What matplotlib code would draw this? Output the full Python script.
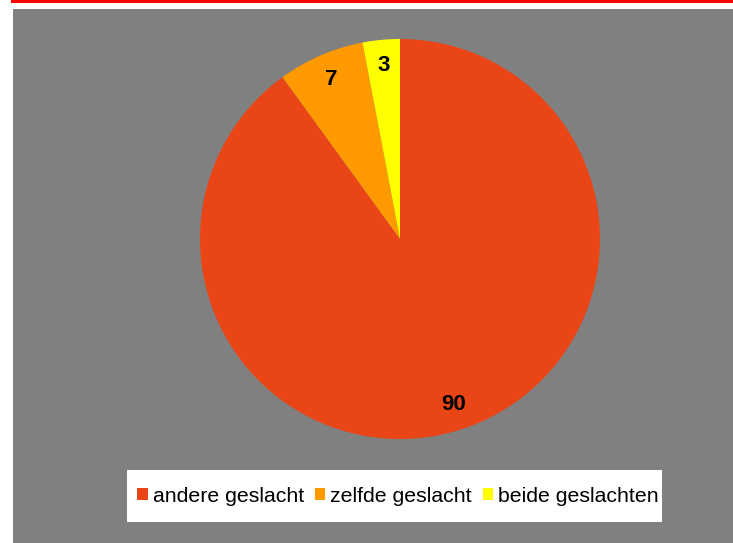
import matplotlib
matplotlib.use('Agg')
import matplotlib.pyplot as plt
from matplotlib.patches import Rectangle, Patch

plt.rcParams['font.family'] = ['Liberation Sans', 'DejaVu Sans']

labels = ["andere geslacht", "zelfde geslacht", "beide geslachten"]
values = [90, 7, 3]
colors = ["#EA4517", "#FF9900", "#FFFF00"]

W, H = 733, 543
fig = plt.figure(figsize=(W / 100, H / 100), dpi=100)
fig.patch.set_facecolor("white")

# red rule on top, grey plot area, white legend box
fig.patches.append(Rectangle((11 / W, 1 - 3 / H), 1, 3 / H, transform=fig.transFigure,
                             facecolor="#FF0000", edgecolor="none", zorder=-2))
fig.patches.append(Rectangle((13 / W, 0), 1, 1 - 9 / H, transform=fig.transFigure,
                             facecolor="#808080", edgecolor="none", zorder=-2))
fig.patches.append(Rectangle((127 / W, 1 - 522 / H), 535 / W, 52 / H, transform=fig.transFigure,
                             facecolor="white", edgecolor="none", zorder=-1))

ax = fig.add_axes([200 / W, (H - 439) / H, 400 / W, 400 / H])
ax.set_facecolor("none")
wedges, texts, autotexts = ax.pie(values, colors=colors, startangle=90, counterclock=False,
                                  autopct='%.0f', pctdistance=0.87,
                                  wedgeprops=dict(linewidth=0))
for t in autotexts:
    t.set_fontsize(16)
    t.set_fontweight("bold")
    t.set_color("black")
ax.set_xlim(-1, 1)
ax.set_ylim(-1, 1)
ax.set_aspect("equal")
ax.axis("off")

handles = [Patch(facecolor=c, edgecolor="none") for c in colors]
leg = fig.legend(handles, labels, loc="center", bbox_to_anchor=(398 / W, 1 - 496 / H),
                 ncol=3, fontsize=15.3, frameon=False, borderpad=0.3,
                 handlelength=0.48, handleheight=0.48, handletextpad=0.25,
                 columnspacing=0.5)

fig.savefig("out.png", dpi=100)
